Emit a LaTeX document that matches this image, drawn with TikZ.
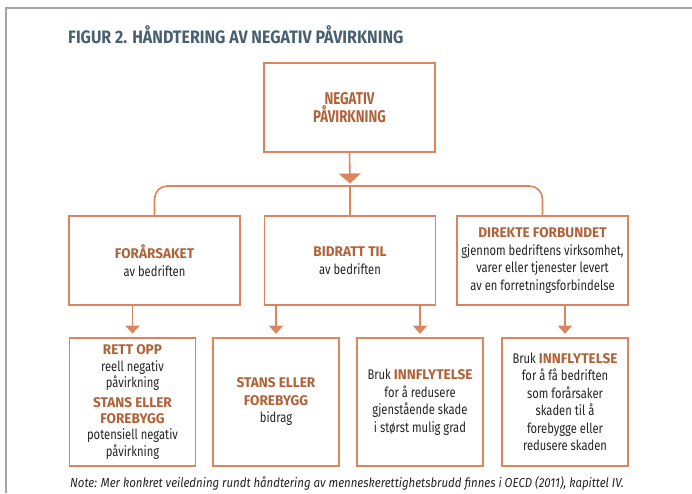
\documentclass[tikz,border=0pt]{standalone}
\usepackage{fontspec}
\setmainfont{Fira Sans}[FakeStretch=0.8]
\newfontfamily\headfont{Fira Sans}[FakeStretch=0.97]
\newfontfamily\titlefont{Fira Sans}[FakeStretch=0.89]
\newfontfamily\topfont{Fira Sans}[FakeStretch=0.78]
\newfontfamily\notefont{Fira Sans}[FakeStretch=0.88]
\usetikzlibrary{arrows.meta}
\definecolor{lineC}{RGB}{219,133,95}
\definecolor{headC}{RGB}{176,98,58}
\definecolor{bodyC}{RGB}{35,35,35}
\definecolor{titleC}{RGB}{72,96,112}
\definecolor{frameC}{RGB}{165,165,165}
\newcommand\headtxt[1]{{\headfont\bfseries\color{headC}#1}}
\begin{document}
\begin{tikzpicture}[x=1pt,y=-1pt,
 box/.style={draw=lineC, line width=1.6pt, align=center, inner sep=2pt, text=bodyC,
   font=\fontsize{14}{17.5}\selectfont},
 midbox/.style={box, minimum width=171pt, minimum height=89pt},
 lowbox/.style={box, minimum width=126pt, minimum height=128pt},
 conn/.style={draw=lineC, line width=1.6pt},
 bigarrow/.style={conn, -{Triangle[width=22pt,length=10pt]}},
 smallarrow/.style={conn, -{Triangle[width=14pt,length=8pt]}, shorten >=3.5pt},
]
\useasboundingbox (0,0) rectangle (692,493);
\draw[frameC, line width=1.5pt] (6,493) -- (6,8) -- (692,8);

\node[anchor=base west, inner sep=0, text=titleC, font=\titlefont\fontsize{18}{20}\selectfont\bfseries]
  (title) at (68,43) {FIGUR 2. HÅNDTERING AV NEGATIV PÅVIRKNING};

\node[box, minimum width=171pt, minimum height=89pt, text=headC,
  font=\topfont\fontsize{17}{18.5}\selectfont\bfseries] (top) at (349.5,107.5) {NEGATIV\\PÅVIRKNING};

\node[midbox] (m1) at (154.5,260.5) {\headtxt{FORÅRSAKET}\\av bedriften};
\node[midbox] (m2) at (350,260.5) {\headtxt{BIDRATT TIL}\\av bedriften};
\node[midbox] (m3) at (542.5,260.5) {\headtxt{DIREKTE FORBUNDET}\\gjennom bedriftens virksomhet,\\varer eller tjenester levert\\av en forretningsforbindelse};

\node[lowbox, font=\fontsize{14}{16.2}\selectfont] (b1) at (132.5,402) {\headtxt{RETT OPP}\\reell negativ\\påvirkning\\[4pt]\headtxt{STANS ELLER}\\\headtxt{FOREBYGG}\\potensiell negativ\\påvirkning};
\node[lowbox] (b2) at (276,402) {\headtxt{STANS ELLER}\\\headtxt{FOREBYGG}\\bidrag};
\node[lowbox] (b3) at (420,402) {Bruk \headtxt{INNFLYTELSE}\\for å redusere\\gjenstående skade\\i størst mulig grad};
\node[lowbox] (b4) at (565,402) {Bruk \headtxt{INNFLYTELSE}\\for å få bedriften\\som forårsaker\\skaden til å\\forebygge eller\\redusere skaden};

\coordinate (bus) at (350,186);
\coordinate (tip) at (350,183.5);
\draw[bigarrow] (top.south) -- (tip);
\draw[conn, rounded corners=13pt] (m1.north) |- (bus) -| (m3.north);
\draw[conn] (m2.north) -- (bus);

\draw[smallarrow] (m1.south -| b1.north) -- (b1.north);
\draw[smallarrow] (m2.south -| b2.north) -- (b2.north);
\draw[smallarrow] (m2.south -| b3.north) -- (b3.north);
\draw[smallarrow] (m3.south -| b4.north) -- (b4.north);

\node[anchor=base west, inner sep=0, text=bodyC, font=\notefont\fontsize{13}{15}\selectfont\itshape]
  (note) at (70,487) {Note: Mer konkret veiledning rundt håndtering av menneskerettighetsbrudd finnes i OECD (2011), kapittel IV.};
\end{tikzpicture}
\end{document}
